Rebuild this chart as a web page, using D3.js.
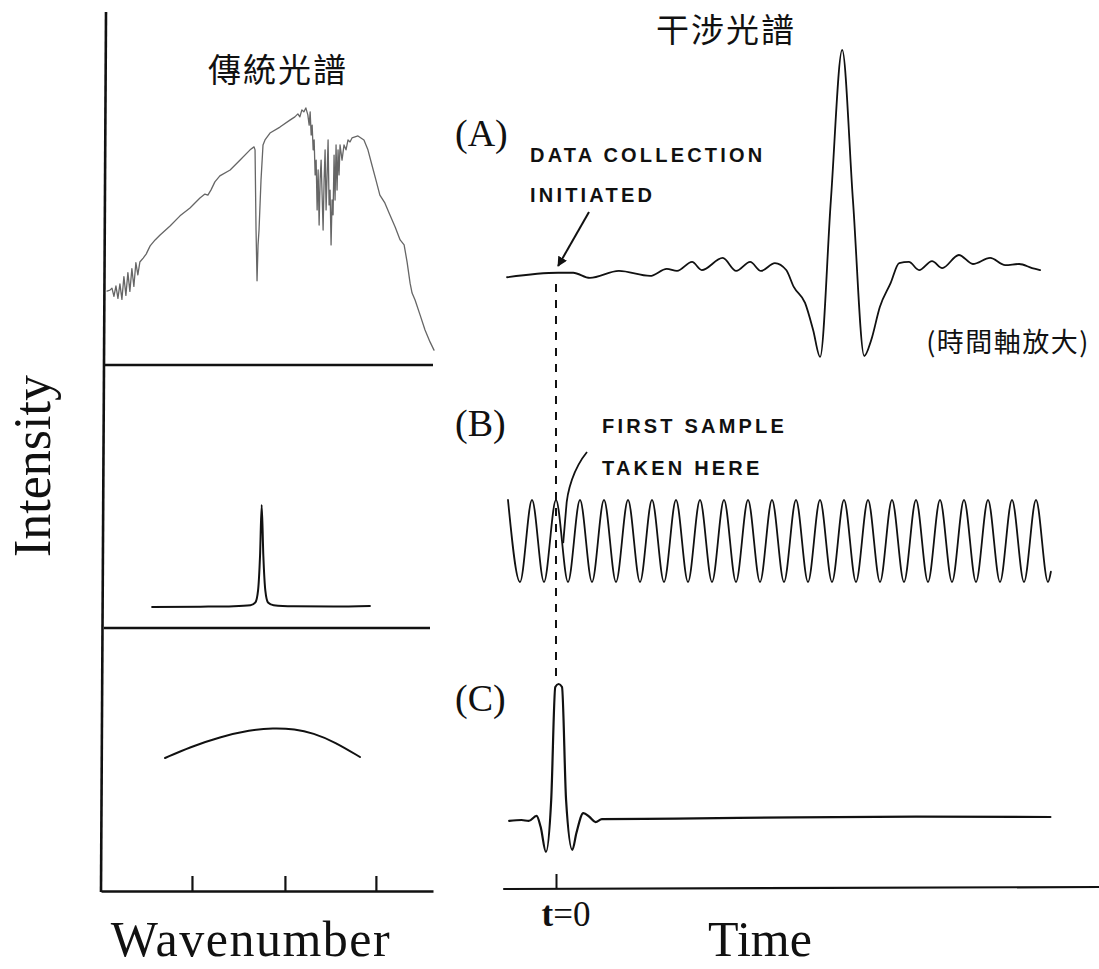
<!DOCTYPE html>
<html>
<head>
<meta charset="utf-8">
<script src="https://cdnjs.cloudflare.com/ajax/libs/d3/7.8.5/d3.min.js"></script>
<style>
  body { margin: 0; background: #fff; }
  .serif { font-family: "Liberation Serif", "DejaVu Serif", serif; fill: #111; }
  .caps { font-family: "Liberation Sans", "DejaVu Sans", sans-serif; font-size: 20px; font-weight: bold; letter-spacing: 3.2px; fill: #111; }
  .cjk { font-family: "Noto Sans CJK TC", "Noto Sans CJK SC", sans-serif; fill: #111; }
</style>
</head>
<body>
<div id="grafico"></div>
<script>
// Datos: espectro convencional (número de onda vs intensidad)
const topWn = [1.8, 2.7, 3.3, 3.9, 4.5, 5.1, 5.7, 6.3, 6.9, 7.5, 8.1, 8.7, 9.3, 9.9, 10.5, 11.1, 11.7, 12.7, 13.6, 14.8,
  16.3, 17.8, 20.8, 23.8, 26.8, 29.8, 31.3, 32.2, 33.1, 34.3, 35.8, 38.9, 41.9, 44.9, 46.1, 46.4, 46.7, 47.0, 47.3, 47.6,
  48.2, 48.8, 49.4, 50.9, 53.9, 56.9, 58.4, 59.3, 59.9, 60.5, 61.1, 61.7, 62.3, 62.7, 63.0, 63.3, 63.6, 63.9, 64.2, 64.5,
  64.8, 65.1, 65.4, 65.7, 66.0, 66.3, 66.6, 66.9, 67.2, 67.5, 67.8, 68.1, 68.4, 68.7, 69.0, 69.3, 69.6, 69.9, 70.2, 70.5,
  70.8, 71.1, 71.4, 71.7, 72.0, 72.6, 73.2, 73.8, 74.4, 75.0, 75.6, 76.5, 77.4, 78.3, 79.2, 80.4, 81.6, 82.8, 84.0, 85.5,
  87.0, 88.6, 90.1, 91.3, 92.2, 93.1, 93.7, 94.6, 96.1, 97.6, 99.1, 100.3];
const topInt = [22.4, 22.7, 23.3, 20.8, 24.0, 20.2, 24.6, 19.9, 26.8, 21.1, 28.0, 22.3, 29.2, 23.8, 31.0, 27.3, 31.2, 32.4, 33.6, 36.1,
  37.9, 39.4, 42.1, 45.2, 47.6, 50.6, 51.8, 51.5, 53.0, 55.5, 57.3, 59.1, 62.1, 65.2, 66.1, 65.2, 40.9, 25.5, 36.4, 40.9,
  56.1, 66.7, 68.2, 70.3, 72.1, 74.2, 75.2, 76.1, 75.2, 77.3, 76.7, 77.9, 75.8, 72.7, 76.7, 69.7, 72.7, 65.2, 68.2, 57.6,
  62.1, 47.0, 59.1, 42.4, 56.1, 62.1, 51.5, 40.9, 56.1, 65.2, 47.0, 57.6, 68.2, 48.5, 53.0, 36.4, 50.0, 45.5, 63.6, 50.0,
  66.7, 53.0, 65.2, 57.6, 66.7, 62.1, 66.7, 65.2, 68.2, 67.6, 68.8, 69.1, 69.4, 68.8, 68.2, 65.2, 60.6, 56.1, 51.5, 49.1,
  45.5, 41.8, 37.9, 36.4, 31.2, 24.8, 21.8, 19.7, 15.2, 10.6, 7.0, 4.5];

// Línea monocromática
const midWn = [15.4, 30, 40, 45, 46.5, 47.3, 47.9, 48.4, 48.9, 49.5, 50.3, 52, 58, 70, 81];
const midInt = [0, 0.003, 0.008, 0.018, 0.045, 0.16, 0.5, 1.0, 0.5, 0.16, 0.045, 0.018, 0.008, 0.005, 0.01];

// Banda ancha
const botWn = [19.3, 26.8, 35.8, 44.9, 51.8, 58.4, 63.9, 70.5, 78.0];
const botInt = [0.816, 0.883, 0.945, 0.988, 1.0, 0.994, 0.969, 0.914, 0.822];
const wnTicks = [27.4, 55.4, 82.8];

// (A) interferograma (eje de tiempo ampliado)
const aPos = [0, 9.5, 12.3, 15.4, 20.8, 26.6, 29.7, 31.6, 34.4, 36.2, 40.1, 42.6, 45.2, 47.2, 49.8, 51.9, 53.3, 55.4, 56.9, 58.2,
  60.2, 62.3, 64.3, 66.4, 67.7, 69.3, 71.3, 72.9, 74.7, 76.6, 79.0, 80.9, 84.0, 86.6, 89.8, 92.6, 95.2, 97.6, 99.1];
const aSignal = [-0.01, 0.01, 0.01, -0.013, 0.018, -0.004, 0.027, 0.018, 0.058, 0.022, 0.076, 0.018, 0.058, 0.018, 0.053, 0.022, -0.053, -0.124, -0.244, -0.364,
  0.333, 1.0, 0.333, -0.36, -0.289, -0.142, -0.036, 0.053, 0.058, 0.022, 0.062, 0.031, 0.089, 0.049, 0.076, 0.044, 0.049, 0.031, 0.022];

// (B) señal de referencia (láser)
const bTime = [-2, -1.5, -1, -0.5, 0, 0.5, 1, 1.5, 2, 2.5, 3, 3.5, 4, 4.5, 5, 5.5, 6, 6.5, 7, 7.5, 8, 8.5, 9, 9.5,
  10, 10.5, 11, 11.5, 12, 12.5, 13, 13.5, 14, 14.5, 15, 15.5, 16, 16.5, 17, 17.5, 18, 18.5, 19, 19.5, 20, 20.5, 20.62];
const bSignal = [1, -1, 1, -1, 1, -1, 1, -1, 1, -1, 1, -1, 1, -1, 1, -1, 1, -1, 1, -1, 1, -1, 1, -1,
  1, -1, 1, -1, 1, -1, 1, -1, 1, -1, 1, -1, 1, -1, 1, -1, 1, -1, 1, -1, 1, -1, -0.75];

// (C) luz blanca
const cTime = [-1.95, -1.44, -1.14, -0.81, -0.64, -0.42, -0.2, -0.03, 0.11, 0.25, 0.42, 0.68, 0.85, 1.14, 1.4, 1.65, 1.91, 5, 10, 15, 20.6];
const cSignal = [-0.007, 0.0, -0.007, 0.03, -0.05, -0.235, 0.147, 0.978, 1.0, 0.978, 0.147, -0.22, -0.096, 0.051, 0.022, -0.015, 0.007, 0.01, 0.02, 0.025, 0.022];
const timeTicks = [0];

// Configuración del SVG
const width = 1099;
const height = 969;

const svg = d3.select("#grafico")
  .append("svg")
  .attr("width", width)
  .attr("height", height)
  .style("background", "#fff");

// Escalas
const wnX = d3.scaleLinear().domain([0, 100]).range([101, 433]);
const yTop = d3.scaleLinear().domain([0, 100]).range([365, 35]);
const yMid = d3.scaleLinear().domain([0, 1]).range([607, 505]);
const yBot = d3.scaleLinear().domain([0, 1]).range([891, 728]);
const aX = d3.scaleLinear().domain([0, 100]).range([507, 1045]);
const aY = d3.scaleLinear().domain([0, 1]).range([275, 50]);
const timeX = d3.scaleLinear().domain([-2, 20.5]).range([508, 1048]);
const bY = d3.scaleLinear().domain([-1, 1]).range([582, 500]);
const cY = d3.scaleLinear().domain([0, 1]).range([820, 684]);

// Dibuja una serie a partir de dos arreglos
function drawSeries(xs, ys, xScale, yScale, curve, color, w) {
  const pts = xs.map((d, i) => [d, ys[i]]);
  const line = d3.line()
    .x(d => xScale(d[0]))
    .y(d => yScale(d[1]))
    .curve(curve);
  svg.append("path")
    .datum(pts)
    .attr("d", line)
    .attr("fill", "none")
    .attr("stroke", color)
    .attr("stroke-width", w)
    .attr("stroke-linejoin", "round")
    .attr("stroke-linecap", "round");
}

// Ejes del panel izquierdo
svg.append("line")
  .attr("x1", 106).attr("y1", 12)
  .attr("x2", 101).attr("y2", 892)
  .attr("stroke", "#111").attr("stroke-width", 2.6);

[[365, 433], [628, 430]].forEach(([y, x2]) => {
  svg.append("line")
    .attr("x1", 104).attr("y1", y)
    .attr("x2", x2).attr("y2", y)
    .attr("stroke", "#111").attr("stroke-width", 2.4);
});

const wnAxis = svg.append("g")
  .attr("transform", "translate(0,891)")
  .call(d3.axisBottom(wnX).tickValues(wnTicks).tickSize(-15).tickSizeOuter(0).tickFormat(""));
wnAxis.select(".domain").attr("stroke", "#111").attr("stroke-width", 2.4);
wnAxis.selectAll(".tick line").attr("stroke", "#111").attr("stroke-width", 2.2);

// Espectros
drawSeries(topWn, topInt, wnX, yTop, d3.curveLinear, "#666", 1.3);
drawSeries(midWn, midInt, wnX, yMid, d3.curveMonotoneX, "#111", 2);
drawSeries(botWn, botInt, wnX, yBot, d3.curveBasis, "#111", 2);

// Eje de tiempo
const tAxis = svg.append("g")
  .attr("transform", "translate(0,889)")
  .call(d3.axisBottom(timeX).tickValues(timeTicks).tickSize(-15).tickSizeOuter(0).tickFormat(""));
tAxis.select(".domain").remove();
tAxis.selectAll(".tick line").attr("stroke", "#111").attr("stroke-width", 2);
svg.append("line")
  .attr("x1", timeX(-2.2)).attr("y1", 889)
  .attr("x2", width).attr("y2", 887)
  .attr("stroke", "#111").attr("stroke-width", 2.2);

// Línea discontinua en t=0
svg.append("line")
  .attr("x1", timeX(0)).attr("y1", 284)
  .attr("x2", timeX(0)).attr("y2", 678)
  .attr("stroke", "#111").attr("stroke-width", 2)
  .attr("stroke-dasharray", "8,8");

// Interferogramas
drawSeries(aPos, aSignal, aX, aY, d3.curveMonotoneX, "#111", 1.8);
drawSeries(bTime, bSignal, timeX, bY, d3.curveMonotoneX, "#111", 1.8);
drawSeries(cTime, cSignal, timeX, cY, d3.curveMonotoneX, "#111", 2.2);

// Flecha "DATA COLLECTION INITIATED"
svg.append("defs").append("marker")
  .attr("id", "punta")
  .attr("viewBox", "0 0 10 10")
  .attr("refX", 9).attr("refY", 5)
  .attr("markerWidth", 5).attr("markerHeight", 5)
  .attr("orient", "auto")
  .append("path")
  .attr("d", "M0,0 L10,5 L0,10 z")
  .attr("fill", "#111");

svg.append("line")
  .attr("x1", 589).attr("y1", 212)
  .attr("x2", aX(9.5)).attr("y2", aY(0.04))
  .attr("stroke", "#111").attr("stroke-width", 2)
  .attr("marker-end", "url(#punta)");

// Trazo "FIRST SAMPLE TAKEN HERE"
const tip = [timeX(0.3), bY(-0.05)];
svg.append("path")
  .attr("d", `M587,452 C574,468 567,490 566,510 L${tip[0]},${tip[1]}`)
  .attr("fill", "none")
  .attr("stroke", "#111").attr("stroke-width", 1.8);

// Textos
svg.append("text").attr("class", "cjk")
  .attr("x", 278).attr("y", 82)
  .attr("text-anchor", "middle")
  .attr("font-size", 33).attr("letter-spacing", 2)
  .text("傳統光譜");

svg.append("text").attr("class", "cjk")
  .attr("x", 726).attr("y", 42)
  .attr("text-anchor", "middle")
  .attr("font-size", 33).attr("letter-spacing", 2)
  .text("干涉光譜");

svg.append("text").attr("class", "serif")
  .attr("transform", "translate(50,466) rotate(-90)")
  .attr("text-anchor", "middle")
  .attr("font-size", 52)
  .text("Intensity");

svg.append("text").attr("class", "serif")
  .attr("x", 251).attr("y", 956)
  .attr("text-anchor", "middle")
  .attr("font-size", 50).attr("letter-spacing", 1.5)
  .text("Wavenumber");

svg.append("text").attr("class", "serif")
  .attr("x", 760).attr("y", 956)
  .attr("text-anchor", "middle")
  .attr("font-size", 50)
  .text("Time");

const t0 = svg.append("text").attr("class", "serif")
  .attr("x", timeX(0) + 10).attr("y", 926)
  .attr("text-anchor", "middle")
  .attr("font-size", 35);
t0.append("tspan").attr("font-weight", "bold").text("t");
t0.append("tspan").text("=0");

[["(A)", 146], ["(B)", 436], ["(C)", 711]].forEach(([t, y]) => {
  svg.append("text").attr("class", "serif")
    .attr("x", 455).attr("y", y)
    .attr("font-size", 38)
    .text(t);
});

[["DATA COLLECTION", 530, 162], ["INITIATED", 530, 202], ["FIRST SAMPLE", 602, 433], ["TAKEN HERE", 602, 475]].forEach(([t, x, y]) => {
  svg.append("text").attr("class", "caps")
    .attr("x", x).attr("y", y)
    .text(t);
});

svg.append("text").attr("class", "cjk")
  .attr("x", 1090).attr("y", 352)
  .attr("text-anchor", "end")
  .attr("font-size", 27).attr("letter-spacing", 1.5)
  .text("(時間軸放大)");
</script>
</body>
</html>
